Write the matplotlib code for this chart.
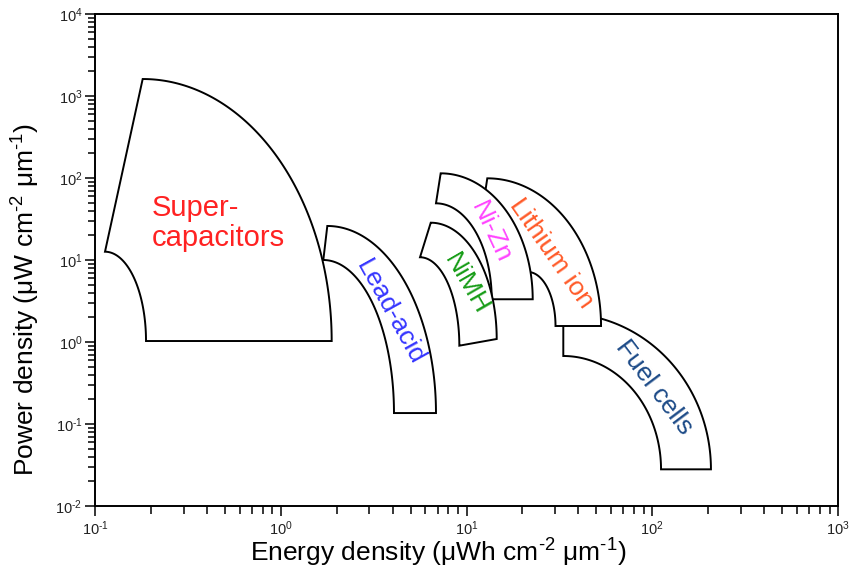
import numpy as np
import matplotlib
matplotlib.use("Agg")
import matplotlib.pyplot as plt
from matplotlib.ticker import LogLocator, NullFormatter, FixedLocator

plt.rcParams["font.family"] = ["Liberation Sans", "DejaVu Sans"]
plt.rcParams["mathtext.fontset"] = "custom"
plt.rcParams["mathtext.rm"] = "Liberation Sans"
plt.rcParams["mathtext.it"] = "Liberation Sans"
plt.rcParams["mathtext.default"] = "regular"

# Region outlines: each technology is bounded by an outer arc (top -> right end)
# and an inner arc (left point -> bottom-left), energy in uWh cm^-2 um^-1,
# power in uW cm^-2 um^-1.
# corners: A = top of outer arc, B = end of outer arc, C = end of inner arc, D = start of inner arc
supercap_A = (0.1806, 1611.0)
supercap_B = (1.880, 1.028)
supercap_C = (0.1882, 1.028)
supercap_D = (0.1132, 12.62)

leadacid_A = (1.781, 26.0)
leadacid_B = (6.85, 0.136)
leadacid_C = (4.07, 0.136)
leadacid_D = (1.695, 10.0)

nizn_A = (7.26, 114.0)
nizn_B = (22.72, 3.32)
nizn_C = (13.67, 3.32)
nizn_D = (6.85, 49.1)

nimh_A = (6.42, 28.5)
nimh_B = (14.54, 1.088)
nimh_C = (9.15, 0.902)
nimh_D = (5.62, 10.8)

liion_A = (12.94, 99.1)
liion_E = (12.42, 53.9)
liion_B = (53.0, 1.567)
liion_C = (30.14, 1.567)
liion_D = (21.43, 7.14)

fuel_A = (33.2, 2.23)
fuel_B = (207.0, 0.028)
fuel_C = (111.5, 0.028)
fuel_D = (33.2, 0.675)

labels = ["Super-\ncapacitors", "Lead-acid", "NiMH", "Ni-Zn", "Lithium ion", "Fuel cells"]
label_x = [0.2027, 3.873, 9.94, 13.55, 28.8, 102.0]
label_y = [28.3, 2.32, 5.1, 21.9, 12.2, 0.283]
label_rot = [0, -61, -60, -65, -55, -53]
label_colors = ["#ff2222", "#3535ff", "#169c16", "#ff44ff", "#ff5a28", "#1d4b88"]

x_decades = [-1, 0, 1, 2, 3]
y_decades = [-2, -1, 0, 1, 2, 3, 4]


def quarter_arc(p, q, n=120):
    """Quarter ellipse in log space from p (horizontal tangent) to q (vertical tangent)."""
    lpx, lpy = np.log10(p)
    lqx, lqy = np.log10(q)
    t = np.linspace(0, np.pi / 2, n)
    lx = lpx + (lqx - lpx) * np.sin(t)
    ly = lqy + (lpy - lqy) * np.cos(t)
    return 10 ** lx, 10 ** ly


def region(ax, A, B, C, D, extra=None, z=2):
    ox, oy = quarter_arc(A, B)
    ix, iy = quarter_arc(D, C)
    xs = list(ox) + list(ix[::-1])
    ys = list(oy) + list(iy[::-1])
    if extra is not None:
        xs.append(extra[0])
        ys.append(extra[1])
    xs.append(xs[0])
    ys.append(ys[0])
    ax.fill(xs, ys, facecolor="white", edgecolor="black", linewidth=1.4,
            joinstyle="miter", zorder=z)


def power_label(d):
    return "$10^{\\text{%d}}$" % d


fig = plt.figure(figsize=(8.49, 5.74), dpi=100)
ax = fig.add_axes([95 / 849, 1 - 506 / 574, (838 - 95) / 849, (506 - 14) / 574])
ax.set_xscale("log")
ax.set_yscale("log")
ax.set_xlim(10.0 ** x_decades[0], 10.0 ** x_decades[-1])
ax.set_ylim(10.0 ** y_decades[0], 10.0 ** y_decades[-1])

region(ax, supercap_A, supercap_B, supercap_C, supercap_D, z=2)
region(ax, leadacid_A, leadacid_B, leadacid_C, leadacid_D, z=3)
region(ax, fuel_A, fuel_B, fuel_C, fuel_D, z=4)
region(ax, liion_A, liion_B, liion_C, liion_D, extra=liion_E, z=5)
region(ax, nizn_A, nizn_B, nizn_C, nizn_D, z=6)
region(ax, nimh_A, nimh_B, nimh_C, nimh_D, z=7)

for i, txt in enumerate(labels):
    if i == 0:
        ax.text(label_x[i], label_y[i], txt, color=label_colors[i], fontsize=21,
                ha="left", va="center", linespacing=1.1, zorder=10)
    else:
        ax.text(label_x[i], label_y[i], txt, color=label_colors[i], fontsize=19,
                ha="center", va="center", rotation=label_rot[i],
                rotation_mode="anchor", zorder=10)

ax.xaxis.set_major_locator(FixedLocator([10.0 ** d for d in x_decades]))
ax.yaxis.set_major_locator(FixedLocator([10.0 ** d for d in y_decades]))
ax.xaxis.set_minor_locator(LogLocator(base=10, subs=np.arange(2, 10), numticks=20))
ax.yaxis.set_minor_locator(LogLocator(base=10, subs=np.arange(2, 10), numticks=20))
ax.xaxis.set_minor_formatter(NullFormatter())
ax.yaxis.set_minor_formatter(NullFormatter())
ax.set_xticklabels([power_label(d) for d in x_decades])
ax.set_yticklabels([power_label(d) for d in y_decades])

ax.tick_params(axis="both", which="major", direction="out", length=7, width=1.1,
               labelsize=10.5, top=False, right=False, labelcolor="#222222")
ax.tick_params(axis="y", which="minor", direction="out", length=5, width=1.1,
               right=False)
ax.tick_params(axis="x", which="minor", direction="out", length=6, width=1.1,
               top=False)
ax.tick_params(axis="y", which="major", pad=2)
ax.tick_params(axis="x", which="major", pad=3)
for s in ax.spines.values():
    s.set_linewidth(1.4)

ax.set_xlabel("Energy density (μWh cm$^{\\text{-2}}$ μm$^{\\text{-1}}$)", fontsize=19)
ax.set_ylabel("Power density (μW cm$^{\\text{-2}}$ μm$^{\\text{-1}}$)", fontsize=19)
ax.xaxis.set_label_coords(0.4616, -0.063)
ax.yaxis.set_label_coords(-0.071, 0.419)

fig.savefig("out.png", dpi=100)
